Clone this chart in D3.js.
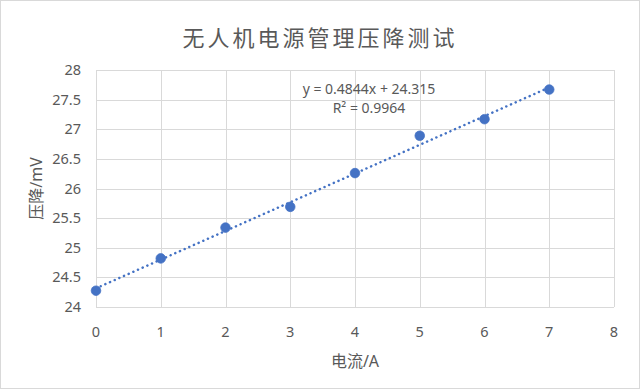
<!DOCTYPE html>
<html>
<head>
<meta charset="utf-8">
<script src="https://cdn.jsdelivr.net/npm/d3@7"></script>
<style>
  body { margin: 0; background: #fff; }
  svg { display: block; font-family: "Noto Sans", "Noto Sans CJK SC", sans-serif; }
</style>
</head>
<body>
<svg id="chart" width="640" height="389"></svg>
<script>
// ── Data ──────────────────────────────────────────────────────────────────────
const CURRENT = [0, 1, 2, 3, 4, 5, 6, 7];                                   // A
const DROP    = [24.275, 24.82, 25.34, 25.69, 26.26, 26.89, 27.17, 27.67];  // mV
const X_TICKS = [0, 1, 2, 3, 4, 5, 6, 7, 8];
const Y_TICKS = [24, 24.5, 25, 25.5, 26, 26.5, 27, 27.5, 28];
const FIT_SLOPE = 0.4844, FIT_INTERCEPT = 24.315, FIT_R2 = 0.9964;

const BLUE = '#4472c4', GRID = '#d9d9d9', TEXT = '#595959';

// ── Layout ────────────────────────────────────────────────────────────────────
const svg = d3.select('#chart');
const m = { left: 96, right: 26, top: 70, bottom: 82 };
const W = 640, H = 389;

svg.append('rect')
    .attr('x', 0.5).attr('y', 0.5)
    .attr('width', W - 1).attr('height', H - 1)
    .attr('fill', '#fff').attr('stroke', GRID);

const x = d3.scaleLinear().domain([0, 8]).range([m.left, W - m.right]);
const y = d3.scaleLinear().domain([24, 28]).range([H - m.bottom, m.top]);

// Gridlines
svg.append('g').selectAll('line')
    .data(Y_TICKS).join('line')
    .attr('x1', x(0)).attr('x2', x(8))
    .attr('y1', d => Math.round(y(d)) + 0.5).attr('y2', d => Math.round(y(d)) + 0.5)
    .attr('stroke', GRID).attr('stroke-width', 1);

svg.append('g').selectAll('line')
    .data(X_TICKS).join('line')
    .attr('y1', y(24)).attr('y2', y(28))
    .attr('x1', d => Math.round(x(d)) + 0.5).attr('x2', d => Math.round(x(d)) + 0.5)
    .attr('stroke', GRID).attr('stroke-width', 1);

// Tick labels
svg.append('g').selectAll('text')
    .data(Y_TICKS).join('text')
    .attr('x', x(0) - 15).attr('y', d => y(d) + 5)
    .attr('text-anchor', 'end')
    .attr('font-size', 14.5).attr('fill', TEXT)
    .text(d => d);

svg.append('g').selectAll('text')
    .data(X_TICKS).join('text')
    .attr('x', d => x(d)).attr('y', y(24) + 30)
    .attr('text-anchor', 'middle')
    .attr('font-size', 14.5).attr('fill', TEXT)
    .text(d => d);

// Titles
svg.append('text')
    .attr('x', 320).attr('y', 46)
    .attr('text-anchor', 'middle')
    .attr('font-size', 22).attr('letter-spacing', 3).attr('fill', TEXT)
    .text('无人机电源管理压降测试');

svg.append('text')
    .attr('x', x(4)).attr('y', 367)
    .attr('text-anchor', 'middle')
    .attr('font-size', 16).attr('fill', TEXT)
    .text('电流/A');

svg.append('text')
    .attr('transform', `translate(42,${(y(24) + y(28)) / 2}) rotate(-90)`)
    .attr('text-anchor', 'middle')
    .attr('font-size', 16).attr('fill', TEXT)
    .text('压降/mV');

// Linear trendline (dotted)
const fit = d3.extent(CURRENT).map(v => [v, FIT_INTERCEPT + FIT_SLOPE * v]);
svg.append('path')
    .attr('d', d3.line().x(d => x(d[0])).y(d => y(d[1]))(fit))
    .attr('fill', 'none')
    .attr('stroke', BLUE)
    .attr('stroke-width', 2.5)
    .attr('stroke-linecap', 'round')
    .attr('stroke-dasharray', '0.1,5');

// Markers
svg.append('g').selectAll('circle')
    .data(CURRENT.map((c, i) => [c, DROP[i]])).join('circle')
    .attr('cx', d => x(d[0])).attr('cy', d => y(d[1]))
    .attr('r', 4.8)
    .attr('fill', BLUE).attr('stroke', BLUE).attr('stroke-width', 0.75);

// Equation label
const eq = svg.append('text')
    .attr('text-anchor', 'middle')
    .attr('font-size', 14).attr('fill', TEXT);
eq.append('tspan').attr('x', 369).attr('y', 94)
    .text(`y = ${FIT_SLOPE}x + ${FIT_INTERCEPT}`);
eq.append('tspan').attr('x', 369).attr('y', 113)
    .text(`R² = ${FIT_R2}`);
</script>
</body>
</html>
